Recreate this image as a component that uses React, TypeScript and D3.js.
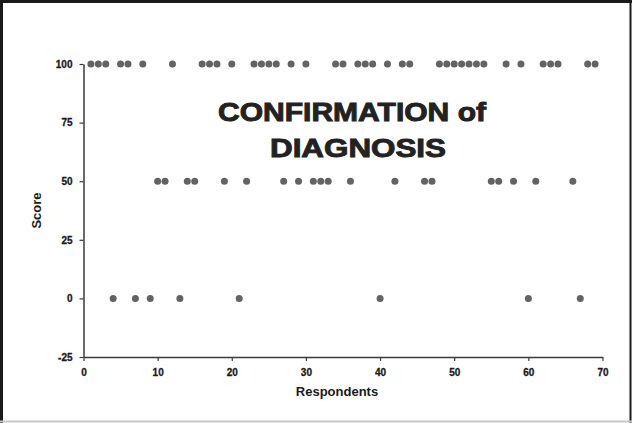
import React, { useEffect, useRef } from "react";
import * as d3 from "d3";

const respondentsAt100 = [1, 2, 3, 5, 6, 8, 12, 16, 17, 18, 20, 23, 24, 25, 26, 28, 30, 34, 35, 37, 38, 39, 41, 43, 44, 48, 49, 50, 51, 52, 53, 54, 57, 59, 62, 63, 64, 68, 69];
const respondentsAt50 = [10, 11, 14, 15, 19, 22, 27, 29, 31, 32, 33, 36, 42, 46, 47, 55, 56, 58, 61, 66];
const respondentsAt0 = [4, 7, 9, 13, 21, 40, 60, 67];
const xTicks = [0, 10, 20, 30, 40, 50, 60, 70];
const yTicks = [-25, 0, 25, 50, 75, 100];
const titleLines = ["CONFIRMATION of", "DIAGNOSIS"];

const W = 632;
const H = 423;

export default function App() {
  const ref = useRef<SVGSVGElement>(null);

  useEffect(() => {
    const svg = d3.select(ref.current);
    svg.selectAll("*").remove();

    const x = d3.scaleLinear().domain([0, 70]).range([83.5, 602.5]);
    const y = d3.scaleLinear().domain([-25, 100]).range([357, 64]);

    svg.append("rect").attr("width", W).attr("height", H).attr("fill", "#ffffff");

    // frame
    svg.append("line").attr("x1", 0).attr("x2", W).attr("y1", 1.5).attr("y2", 1.5).attr("stroke", "#1a1a1a").attr("stroke-width", 3);
    svg.append("line").attr("x1", 1.5).attr("x2", 1.5).attr("y1", 0).attr("y2", H).attr("stroke", "#1a1a1a").attr("stroke-width", 3);
    svg.append("line").attr("x1", W - 1.5).attr("x2", W - 1.5).attr("y1", 0).attr("y2", H).attr("stroke", "#1a1a1a").attr("stroke-width", 2);
    svg.append("line").attr("x1", 0).attr("x2", W).attr("y1", H - 1.5).attr("y2", H - 1.5).attr("stroke", "#c8c8c8").attr("stroke-width", 2);

    const font = "Arial, 'Liberation Sans', sans-serif";
    const fmt = (d: d3.NumberValue) => String(d);

    // axes
    const xAxis = d3.axisBottom(x).tickValues(xTicks).tickFormat(fmt).tickSize(4).tickSizeOuter(0).tickPadding(8);
    const gx = svg.append("g").attr("transform", `translate(0,${y(-25)})`).call(xAxis);
    const yAxis = d3.axisLeft(y).tickValues(yTicks).tickFormat(fmt).tickSize(4).tickSizeOuter(0).tickPadding(7);
    const gy = svg.append("g").attr("transform", `translate(${x(0)},0)`).call(yAxis);

    [gx, gy].forEach((g) => {
      g.select(".domain").attr("stroke", "#3a3a3a").attr("stroke-width", 1.5);
      g.selectAll(".tick line").attr("stroke", "#3a3a3a").attr("stroke-width", 1.2);
      g.selectAll(".tick text")
        .attr("fill", "#1a1a1a")
        .attr("font-family", font)
        .attr("font-weight", "bold")
        .attr("font-size", 10)
        .attr("stroke", "#1a1a1a")
        .attr("stroke-width", 0.3);
    });

    // axis titles
    svg.append("text")
      .attr("x", 337)
      .attr("y", 396)
      .attr("text-anchor", "middle")
      .attr("font-family", font)
      .attr("font-weight", "bold")
      .attr("font-size", 13)
      .attr("fill", "#1a1a1a")
      .text("Respondents");

    svg.append("text")
      .attr("transform", `translate(41,${y(37.5)}) rotate(-90)`)
      .attr("text-anchor", "middle")
      .attr("font-family", font)
      .attr("font-weight", "bold")
      .attr("font-size", 13)
      .attr("fill", "#1a1a1a")
      .text("Score");

    // title
    const titleY = [121, 157];
    const titleW = [268, 176];
    titleLines.forEach((t, i) => {
      svg.append("text")
        .attr("x", i === 0 ? 352 : 358)
        .attr("y", titleY[i])
        .attr("text-anchor", "middle")
        .attr("font-family", font)
        .attr("font-weight", "bold")
        .attr("font-size", 25)
        .attr("fill", "#222222")
        .attr("stroke", "#222222")
        .attr("stroke-width", 0.9)
        .attr("textLength", titleW[i])
        .attr("lengthAdjust", "spacingAndGlyphs")
        .text(t);
    });

    // points
    const groups: [number[], number][] = [
      [respondentsAt100, 100],
      [respondentsAt50, 50],
      [respondentsAt0, 0],
    ];
    groups.forEach(([arr, score]) => {
      svg.append("g")
        .selectAll("circle")
        .data(arr)
        .join("circle")
        .attr("cx", (d) => x(d))
        .attr("cy", y(score))
        .attr("r", 3.5)
        .attr("fill", "#636363");
    });
  }, []);

  return (
    <svg
      ref={ref}
      width={W}
      height={H}
      style={{ position: "absolute", left: 0, top: 0, display: "block" }}
    />
  );
}
